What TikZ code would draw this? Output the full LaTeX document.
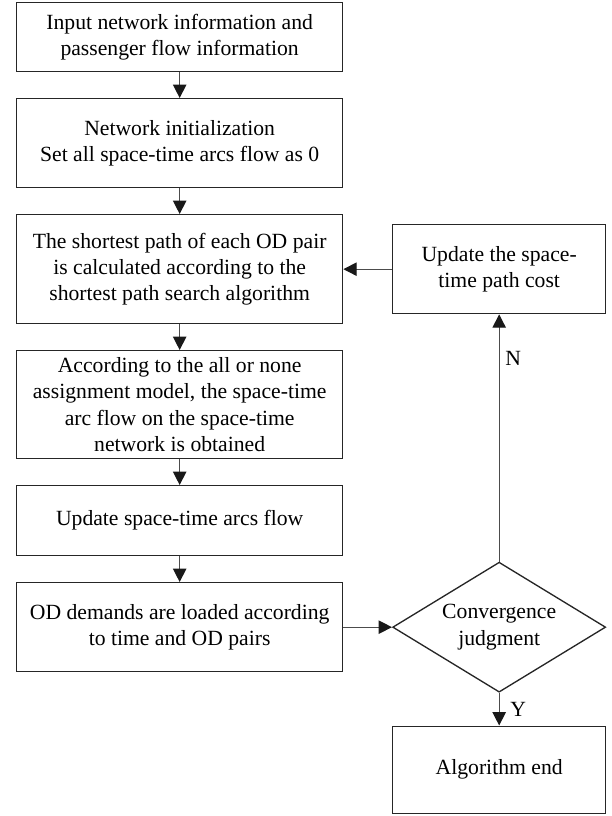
\documentclass[tikz,border=0pt]{standalone}
\usepackage{fontspec}
\setmainfont{Liberation Serif}
\usetikzlibrary{shapes.geometric,arrows.meta,positioning}

\begin{document}
\begin{tikzpicture}[
    font=\fontsize{13}{15.8}\selectfont,
    node distance=15.4pt,
    proc/.style={draw=black!85, minimum width=195.6pt, align=center, inner sep=2pt, line width=0.8pt},
    judge/.style={draw=black!85, diamond, shape aspect=1.64, minimum width=127.8pt, minimum height=78pt, inner sep=0pt, align=center, line width=0.8pt},
    flow/.style={-{Triangle[length=8pt, width=8pt, color=black!90]}, draw=black!70, line width=0.8pt}
]
\useasboundingbox (0,0) rectangle (366.6pt,-489.6pt);
\node[proc, minimum height=41.4pt, anchor=north west] (s1) at (9.6pt,-1.2pt) {Input network information and\\passenger flow information};
\node[proc, minimum height=53.4pt, below=of s1] (s2) {Network initialization\\Set all space-time arcs flow as 0};
\node[proc, minimum height=65.4pt, below=of s2] (s3) {The shortest path of each OD pair\\is calculated according to the\\shortest path search algorithm};
\node[proc, minimum height=64.8pt, below=of s3] (s4) {According to the all or none\\assignment model, the space-time\\arc flow on the space-time\\network is obtained};
\node[proc, minimum height=42pt, below=of s4] (s5) {Update space-time arcs flow};
\node[proc, minimum height=53.4pt, below=of s5] (s6) {OD demands are loaded according\\to time and OD pairs};

\node[proc, minimum width=127.8pt, minimum height=53.4pt, right=29.2pt of s3] (upd) {Update the space-\\time path cost};
\node[judge, right=29.2pt of s6] (conv) {Convergence\\judgment};
\node[proc, minimum width=127.8pt, minimum height=52.2pt, below=19.6pt of conv] (fin) {Algorithm end};

\foreach \i/\j in {s1/s2, s2/s3, s3/s4, s4/s5, s5/s6}
  \draw[flow] (\i.south) -- (\j.north);
\draw[flow] (s6.east) -- (conv.west);
\draw[flow] (upd.west) -- (s3.east);
\draw[flow] (conv.north) -- node[right, pos=0.82] {N} (upd.south);
\draw[flow] (conv.south) -- node[right, xshift=3pt] {Y} (fin.north);
\end{tikzpicture}
\end{document}
